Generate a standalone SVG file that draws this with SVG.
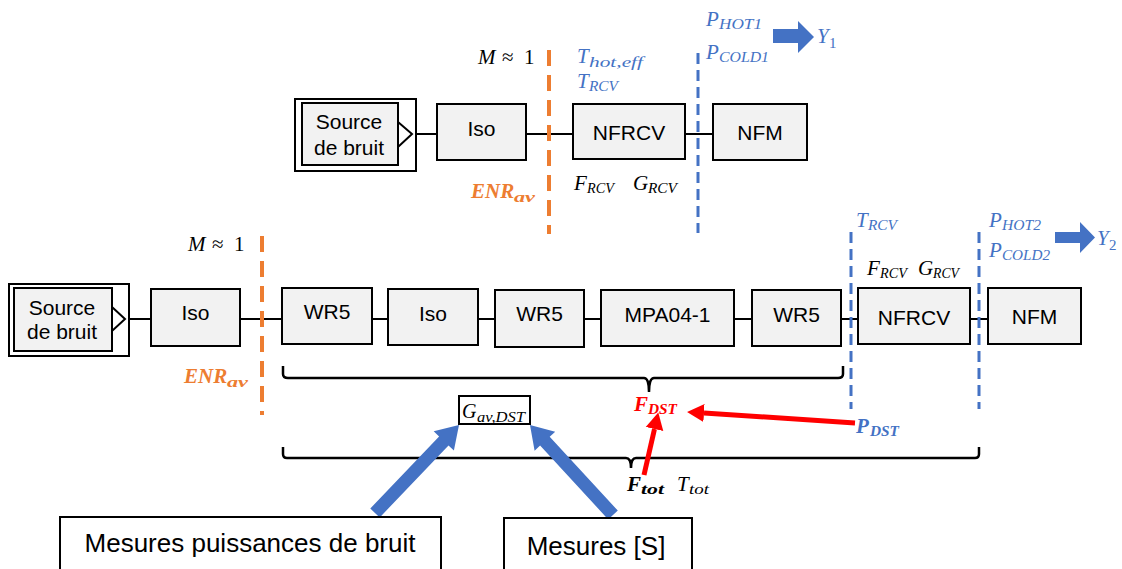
<svg xmlns="http://www.w3.org/2000/svg" width="1122" height="569" viewBox="0 0 1122 569">
<style>
.box{fill:#F2F2F2;stroke:#000;stroke-width:2}
.obox{fill:#fff;stroke:#000;stroke-width:2}
.wbox{fill:#fff;stroke:#000;stroke-width:2}
.lbl{font-family:"Liberation Sans",Arial,sans-serif;font-size:21px;fill:#000;text-anchor:middle}
.big{font-family:"Liberation Sans",Arial,sans-serif;font-size:26px;fill:#000;text-anchor:middle}
.m{font-family:"Liberation Serif","Times New Roman",serif;font-style:italic;font-size:21px}
.s{font-family:"Liberation Serif","Times New Roman",serif;font-style:italic;font-size:15px}
.up{font-style:normal}
.b{font-weight:bold}
.blue{fill:#4472C4}
.orange{fill:#ED7D31}
.red{fill:#FF0000}
.blk{fill:#000}
.wire{stroke:#000;stroke-width:2;fill:none}
.odash{stroke:#ED7D31;stroke-width:4;stroke-dasharray:16 9;fill:none}
.bdash{stroke:#4472C4;stroke-width:3;stroke-dasharray:11 6;fill:none}
.brace{stroke:#000;stroke-width:2.5;fill:none}
.rarrow{stroke:#FF0000;stroke-width:5;fill:none}
.barrow{fill:#4472C4}
</style>
<defs>
<marker id="rh" markerUnits="userSpaceOnUse" markerWidth="18" markerHeight="20" refX="0" refY="10" orient="auto">
<path d="M0,1 L17,10 L0,19 z" fill="#FF0000"/>
</marker>
</defs>

<g id="connectors">
<line class="wire" x1="412" y1="134" x2="437" y2="134"/>
<line class="wire" x1="526" y1="134" x2="573" y2="134"/>
<line class="wire" x1="685" y1="134" x2="713" y2="134"/>
<line class="wire" x1="125" y1="319" x2="151" y2="319"/>
<line class="wire" x1="240" y1="319" x2="282" y2="319"/>
<line class="wire" x1="372" y1="319" x2="388" y2="319"/>
<line class="wire" x1="478" y1="319" x2="495" y2="319"/>
<line class="wire" x1="584" y1="319" x2="601" y2="319"/>
<line class="wire" x1="734" y1="319" x2="752" y2="319"/>
<line class="wire" x1="841" y1="319" x2="858" y2="319"/>
<line class="wire" x1="970" y1="319" x2="988" y2="319"/>
<line class="odash" x1="549" y1="50" x2="549" y2="234"/>
<line class="odash" x1="262" y1="236" x2="262" y2="415"/>
<line class="bdash" x1="698" y1="53" x2="698" y2="233"/>
<line class="bdash" x1="851" y1="232" x2="851" y2="409"/>
<line class="bdash" x1="979" y1="232" x2="979" y2="409"/>
<path class="brace" d="M283,366 L283,374 Q283,378 288,378 L644,378 Q649,378 649,392 Q649,378 654,378 L838,378 Q843,378 843,374 L843,366"/>
<path class="brace" d="M283,447 L283,454 Q283,458 287,458 L626,458 Q631,458 631,468 Q631,458 636,458 L975,458 Q979,458 979,454 L979,447"/>
<polygon class="barrow" points="773,29 798,29 798,21 814,37 798,53 798,43 773,43"/>
<polygon class="barrow" points="1055,232 1080,232 1080,222 1095,237.5 1080,253 1080,243 1055,243"/>
<polygon class="barrow" points="379.7,517.5 448.5,445.4 453.9,450.6 459,425 433.7,431.2 439.1,436.4 370.3,508.5"/>
<polygon class="barrow" points="617.8,510.6 549.7,436.8 555.2,431.7 530,425 534.6,450.7 540.1,445.6 608.2,519.4"/>
<line class="rarrow" x1="855" y1="423" x2="704" y2="413" marker-end="url(#rh)"/>
<line class="rarrow" x1="644" y1="475" x2="654.5" y2="429" marker-end="url(#rh)"/>
</g>

<g id="source-top">
<rect class="obox" x="295" y="99" width="121" height="72"/>
<rect class="box" x="302" y="103" width="96" height="62"/>
<polygon points="398,122 412,134 398,147" fill="#fff" stroke="#000" stroke-width="2"/>
<text class="lbl" x="349" y="129">Source</text>
<text class="lbl" x="349" y="155">de bruit</text>
</g>
<g id="iso-top"><rect class="box" x="437" y="104" width="89" height="56"/><text class="lbl" x="481.5" y="136">Iso</text></g>
<g id="nfrcv-top"><rect class="box" x="573" y="104" width="112" height="55"/><text class="lbl" x="629" y="140">NFRCV</text></g>
<g id="nfm-top"><rect class="box" x="713" y="104" width="94" height="56"/><text class="lbl" x="760" y="140">NFM</text></g>

<g id="source-bottom">
<rect class="obox" x="9" y="284" width="120" height="72"/>
<rect class="box" x="14" y="288" width="98" height="63"/>
<polygon points="112,307 125,319 112,331" fill="#fff" stroke="#000" stroke-width="2"/>
<text class="lbl" x="62" y="315">Source</text>
<text class="lbl" x="62" y="339">de bruit</text>
</g>
<g id="iso-bottom"><rect class="box" x="151" y="289" width="89" height="57"/><text class="lbl" x="195.5" y="320">Iso</text></g>
<g id="wr5-1"><rect class="box" x="282" y="288" width="90" height="56"/><text class="lbl" x="327" y="319">WR5</text></g>
<g id="iso-2"><rect class="box" x="388" y="289" width="90" height="56"/><text class="lbl" x="433" y="321">Iso</text></g>
<g id="wr5-2"><rect class="box" x="495" y="290" width="89" height="57"/><text class="lbl" x="539.5" y="321">WR5</text></g>
<g id="mpa"><rect class="box" x="601" y="290" width="133" height="56"/><text class="lbl" x="667.5" y="322">MPA04-1</text></g>
<g id="wr5-3"><rect class="box" x="752" y="290" width="89" height="56"/><text class="lbl" x="796.5" y="322">WR5</text></g>
<g id="nfrcv-bottom"><rect class="box" x="858" y="288" width="112" height="56"/><text class="lbl" x="914" y="325">NFRCV</text></g>
<g id="nfm-bottom"><rect class="box" x="988" y="288" width="93" height="56"/><text class="lbl" x="1034.5" y="324">NFM</text></g>

<g id="gav-dst"><rect class="wbox" x="459" y="396" width="71" height="28"/>
<text class="m blk" x="462" y="418" style="font-size:20px">G</text>
<text class="s blk" x="477" y="422" textLength="48" lengthAdjust="spacingAndGlyphs">av,DST</text></g>

<g id="mesures-bruit"><rect class="wbox" x="60" y="517" width="381" height="70"/><text class="big" x="250" y="552">Mesures puissances de bruit</text></g>
<g id="mesures-s"><rect class="wbox" x="504" y="518" width="188" height="70"/><text class="big" x="596" y="555">Mesures [S]</text></g>

<g id="labels">
<text class="m blk" x="478" y="64">M</text><text class="m blk up" x="502" y="64">≈</text><text class="m blk up" x="524" y="64">1</text>
<text class="m blk" x="188" y="251">M</text><text class="m blk up" x="212" y="251">≈</text><text class="m blk up" x="234" y="251">1</text>

<text class="m orange b" x="471" y="198">ENR</text>
<text class="s orange b" x="514" y="202" textLength="21" lengthAdjust="spacingAndGlyphs">av</text>
<text class="m orange b" x="184" y="383">ENR</text>
<text class="s orange b" x="227" y="387" textLength="21" lengthAdjust="spacingAndGlyphs">av</text>

<text class="m blue" x="577" y="63">T</text>
<text class="s blue" x="589" y="67" textLength="54" lengthAdjust="spacingAndGlyphs">hot,eff</text>
<text class="m blue" x="577" y="88">T</text>
<text class="s blue" x="589" y="91" textLength="29" lengthAdjust="spacingAndGlyphs">RCV</text>
<text class="m blue" x="706" y="26">P</text>
<text class="s blue" x="719" y="29" textLength="43" lengthAdjust="spacingAndGlyphs">HOT1</text>
<text class="m blue" x="706" y="59">P</text>
<text class="s blue" x="719" y="62" textLength="50" lengthAdjust="spacingAndGlyphs">COLD1</text>
<text class="m blue" x="817" y="43">Y</text>
<text class="s blue up" x="829" y="48">1</text>

<text class="m blk" x="574" y="190">F</text>
<text class="s blk" x="587" y="193" textLength="27" lengthAdjust="spacingAndGlyphs">RCV</text>
<text class="m blk" x="633" y="190">G</text>
<text class="s blk" x="648" y="193" textLength="29" lengthAdjust="spacingAndGlyphs">RCV</text>

<text class="m blue" x="856" y="227">T</text>
<text class="s blue" x="868" y="230" textLength="29" lengthAdjust="spacingAndGlyphs">RCV</text>
<text class="m blue" x="989" y="227">P</text>
<text class="s blue" x="1002" y="230" textLength="39" lengthAdjust="spacingAndGlyphs">HOT2</text>
<text class="m blue" x="989" y="257">P</text>
<text class="s blue" x="1002" y="260" textLength="48" lengthAdjust="spacingAndGlyphs">COLD2</text>
<text class="m blue" x="1097" y="245">Y</text>
<text class="s blue up" x="1109" y="250">2</text>

<text class="m blk" x="867" y="275">F</text>
<text class="s blk" x="880" y="278" textLength="27" lengthAdjust="spacingAndGlyphs">RCV</text>
<text class="m blk" x="918" y="275">G</text>
<text class="s blk" x="933" y="278" textLength="26" lengthAdjust="spacingAndGlyphs">RCV</text>

<text class="m red b" x="634" y="411">F</text>
<text class="s red b" x="648" y="414" textLength="29" lengthAdjust="spacingAndGlyphs">DST</text>
<text class="m blue b" x="856" y="433">P</text>
<text class="s blue b" x="870" y="436" textLength="29" lengthAdjust="spacingAndGlyphs">DST</text>
<text class="m blk b" x="627" y="491">F</text>
<text class="s blk b" x="641" y="494" textLength="23" lengthAdjust="spacingAndGlyphs">tot</text>
<text class="m blk" x="677" y="491">T</text>
<text class="s blk" x="689" y="494" textLength="20" lengthAdjust="spacingAndGlyphs">tot</text>
</g>
</svg>
